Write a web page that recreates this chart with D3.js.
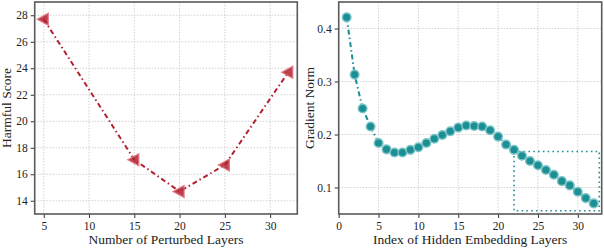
<!DOCTYPE html>
<html><head><meta charset="utf-8">
<script src="https://cdn.jsdelivr.net/npm/d3@7/dist/d3.min.js"></script>
<style>body{margin:0;background:#fff}svg{display:block}text{font-family:"Liberation Serif","DejaVu Serif",serif;fill:#222}</style>
</head><body><svg id="c" width="604" height="250"></svg>
<script>
const leftX = [5, 15, 20, 25, 32];
const leftY = [27.7, 17.1, 14.7, 16.7, 23.7];
const leftXTicks = [5, 10, 15, 20, 25, 30];
const leftYTicks = [14, 16, 18, 20, 22, 24, 26, 28];
const rightX = d3.range(1, 33);
const rightY = [0.421, 0.313, 0.249, 0.215, 0.184, 0.172, 0.166, 0.166, 0.171, 0.176,
  0.184, 0.192, 0.199, 0.206, 0.213, 0.217, 0.216, 0.215, 0.208, 0.196,
  0.181, 0.171, 0.160, 0.150, 0.142, 0.133, 0.124, 0.112, 0.104, 0.092, 0.080, 0.070];
const rightXTicks = [0, 5, 10, 15, 20, 25, 30];
const rightYTicks = [0.1, 0.2, 0.3, 0.4];
const zoomBox = {x0: 22, x1: 32.7, y0: 0.056, y1: 0.168};
const RED = "#b11f2e", TEAL = "#1a8f94";

const svg = d3.select("#c");

function panel(cfg) {
  const g = svg.append("g");
  const x = d3.scaleLinear().domain(cfg.xd).range([cfg.l, cfg.r]);
  const y = d3.scaleLinear().domain(cfg.yd).range([cfg.b, cfg.t]);
  g.selectAll(".gx").data(cfg.xt).join("line")
    .attr("x1", d => x(d)).attr("x2", d => x(d)).attr("y1", cfg.t).attr("y2", cfg.b)
    .attr("stroke", "#c8c8c8").attr("stroke-width", 0.8).attr("stroke-dasharray", "1.5,1.5");
  g.selectAll(".gy").data(cfg.yt).join("line")
    .attr("y1", d => y(d)).attr("y2", d => y(d)).attr("x1", cfg.l).attr("x2", cfg.r)
    .attr("stroke", "#c8c8c8").attr("stroke-width", 0.8).attr("stroke-dasharray", "1.5,1.5");
  const ax = g.append("g").attr("transform", `translate(0,${cfg.b})`)
    .call(d3.axisBottom(x).tickValues(cfg.xt).tickSize(4).tickPadding(4).tickFormat(cfg.xf || d3.format("d")));
  const ay = g.append("g").attr("transform", `translate(${cfg.l},0)`)
    .call(d3.axisLeft(y).tickValues(cfg.yt).tickSize(4).tickPadding(3).tickFormat(cfg.yf));
  [ax, ay].forEach(a => {
    a.select(".domain").remove();
    a.selectAll("line").attr("stroke", "#333").attr("stroke-width", 1);
    a.selectAll("text").style("font-size", "11.5px").attr("fill", "#222");
  });
  g.append("rect").attr("x", cfg.l).attr("y", cfg.t).attr("width", cfg.r - cfg.l).attr("height", cfg.b - cfg.t)
    .attr("fill", "none").attr("stroke", "#5a5a5a").attr("stroke-width", 1.6);
  g.append("text").attr("x", (cfg.l + cfg.r) / 2).attr("y", 244).attr("text-anchor", "middle")
    .style("font-size", "13.5px").text(cfg.xl);
  g.append("text").attr("transform", `translate(${cfg.yl_x},${(cfg.t + cfg.b) / 2}) rotate(-90)`)
    .attr("text-anchor", "middle").style("font-size", "13.5px").text(cfg.yl);
  return {g, x, y};
}

// Left
const L = panel({l: 34.7, r: 297.3, t: 2, b: 214, xd: [4, 33], yd: [13, 29],
  xt: leftXTicks, yt: leftYTicks, yf: d3.format("d"),
  xl: "Number of Perturbed Layers", yl: "Harmful Score", yl_x: 11});
const ld = leftX.map((d, i) => [d, leftY[i]]);
L.g.append("path").datum(ld)
  .attr("d", d3.line().x(d => L.x(d[0])).y(d => L.y(d[1])))
  .attr("fill", "none").attr("stroke", RED).attr("stroke-width", 2)
  .attr("stroke-dasharray", "5,3,1.5,3");
L.g.selectAll(".m").data(ld).join("path")
  .attr("transform", d => `translate(${L.x(d[0])},${L.y(d[1])})`)
  .attr("d", "M-6.5,0L4.5,-6L4.5,6Z")
  .attr("fill", RED).attr("fill-opacity", 0.85)
  .attr("stroke", "#e07a84").attr("stroke-width", 1.2);

// Right
const R = panel({l: 338.7, r: 601.7, t: 2, b: 214, xd: [0, 33], yd: [0.05, 0.45],
  xt: rightXTicks, yt: rightYTicks, yf: d3.format(".1f"),
  xl: "Index of Hidden Embedding Layers", yl: "Gradient Norm", yl_x: 314});
const rd = rightX.map((d, i) => [d, rightY[i]]);
R.g.append("rect").attr("x", R.x(zoomBox.x0)).attr("y", R.y(zoomBox.y1))
  .attr("width", R.x(zoomBox.x1) - R.x(zoomBox.x0)).attr("height", R.y(zoomBox.y0) - R.y(zoomBox.y1))
  .attr("fill", "none").attr("stroke", TEAL).attr("stroke-width", 1.6).attr("stroke-dasharray", "1.6,3.2");
R.g.append("path").datum(rd)
  .attr("d", d3.line().x(d => R.x(d[0])).y(d => R.y(d[1])))
  .attr("fill", "none").attr("stroke", TEAL).attr("stroke-width", 2)
  .attr("stroke-dasharray", "5,3,1.5,3");
R.g.selectAll(".m").data(rd).join("circle")
  .attr("cx", d => R.x(d[0])).attr("cy", d => R.y(d[1])).attr("r", 4.3)
  .attr("fill", TEAL).attr("stroke", "#7cc3c6").attr("stroke-width", 1.5);
</script></body></html>
